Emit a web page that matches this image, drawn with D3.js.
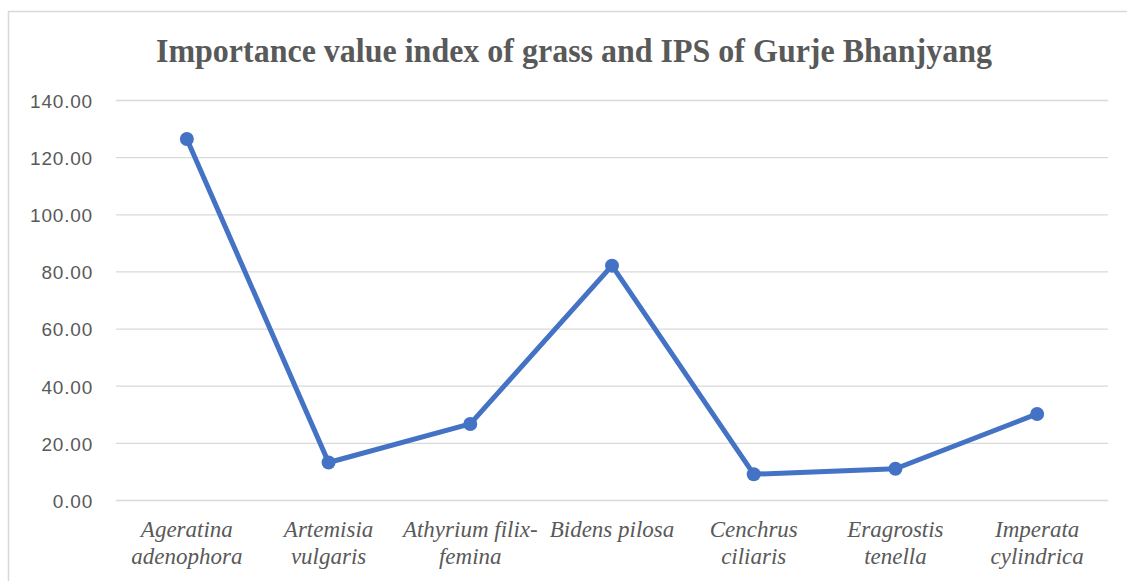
<!DOCTYPE html>
<html>
<head>
<meta charset="utf-8">
<script src="https://cdn.jsdelivr.net/npm/d3@7"></script>
<style>
  body { margin: 0; background: #fff; }
</style>
</head>
<body>
<script>
var species = ["Ageratina adenophora", "Artemisia vulgaris", "Athyrium filix-femina", "Bidens pilosa", "Cenchrus ciliaris", "Eragrostis tenella", "Imperata cylindrica"];
var labelLines = [["Ageratina", "adenophora"], ["Artemisia", "vulgaris"], ["Athyrium filix-", "femina"], ["Bidens pilosa"], ["Cenchrus", "ciliaris"], ["Eragrostis", "tenella"], ["Imperata", "cylindrica"]];
var ivi = [126.5, 13.3, 26.8, 82.2, 9.2, 11.1, 30.3];
var yTicks = [0, 20, 40, 60, 80, 100, 120, 140];

var width = 1127, height = 581;
var plotLeft = 116, plotRight = 1108, plotTop = 100.5, plotBottom = 500.5;

var svg = d3.select("body").append("svg")
  .attr("width", width)
  .attr("height", height);

// chart area border (runs off the right and bottom edges)
svg.append("rect")
  .attr("x", 8.5).attr("y", 11.5)
  .attr("width", 1130).attr("height", 600)
  .attr("fill", "#fff")
  .attr("stroke", "#d9d9d9")
  .attr("stroke-width", 1.5);

var x = d3.scaleBand().domain(species).range([plotLeft, plotRight]);
var y = d3.scaleLinear().domain([0, 140]).range([plotBottom, plotTop]);

// gridlines
svg.append("g")
  .selectAll("line")
  .data(yTicks)
  .enter()
    .append("line")
    .attr("x1", plotLeft).attr("x2", plotRight)
    .attr("y1", function(d){ return y(d); })
    .attr("y2", function(d){ return y(d); })
    .attr("stroke", "#d9d9d9")
    .attr("stroke-width", 1.3);

// y axis labels
var yAxis = d3.axisLeft(y).tickValues(yTicks).tickSize(0).tickPadding(23)
  .tickFormat(d3.format(".2f"));
var yg = svg.append("g").attr("transform", "translate(" + plotLeft + ",0)").call(yAxis);
yg.select(".domain").remove();
yg.selectAll("text")
  .attr("fill", "#595959")
  .attr("dy", "0.36em")
  .style("font-family", "'Liberation Sans', Arial, sans-serif")
  .style("font-size", "19px")
  .style("letter-spacing", "0.8px");

// x axis labels
var xl = svg.append("g").selectAll("text")
  .data(species)
  .enter()
    .append("text")
    .attr("x", function(d){ return x(d) + x.bandwidth() / 2; })
    .attr("y", 537)
    .attr("text-anchor", "middle")
    .attr("fill", "#595959")
    .style("font-family", "'Liberation Serif', 'Times New Roman', serif")
    .style("font-style", "italic")
    .style("font-size", "23px");
xl.selectAll("tspan")
  .data(function(d, i){ return labelLines[i]; })
  .enter()
    .append("tspan")
    .attr("x", function(){ return this.parentNode.getAttribute("x"); })
    .attr("dy", function(d, i){ return i === 0 ? 0 : 27; })
    .text(function(d){ return d; });

// line
var line = d3.line()
  .x(function(d, i){ return x(species[i]) + x.bandwidth() / 2; })
  .y(function(d){ return y(d); });

svg.append("path")
  .datum(ivi)
  .attr("d", line)
  .attr("fill", "none")
  .attr("stroke", "#4472c4")
  .attr("stroke-width", 5)
  .attr("stroke-linejoin", "round");

svg.append("g").selectAll("circle")
  .data(ivi)
  .enter()
    .append("circle")
    .attr("cx", function(d, i){ return x(species[i]) + x.bandwidth() / 2; })
    .attr("cy", function(d){ return y(d); })
    .attr("r", 7)
    .attr("fill", "#4472c4");

// title
svg.append("text")
  .attr("x", 574)
  .attr("y", 62)
  .attr("text-anchor", "middle")
  .attr("fill", "#595959")
  .attr("textLength", 836)
  .attr("lengthAdjust", "spacingAndGlyphs")
  .style("font-family", "'Liberation Serif', 'Times New Roman', serif")
  .style("font-weight", "bold")
  .style("font-size", "34px")
  .text("Importance value index of grass and IPS of Gurje Bhanjyang");
</script>
</body>
</html>
